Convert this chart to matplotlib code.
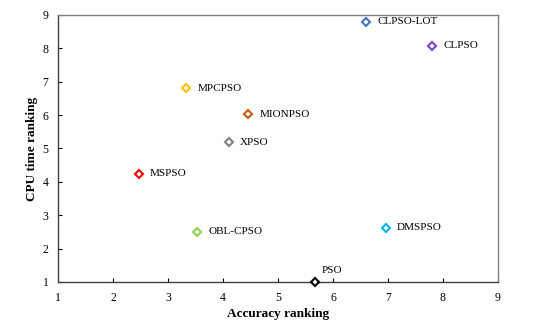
import matplotlib
matplotlib.use('Agg')
import matplotlib.pyplot as plt

# algorithm positions: (accuracy ranking, CPU time ranking)
names = ['CLPSO-LOT', 'CLPSO', 'MPCPSO', 'MIONPSO', 'XPSO',
         'MSPSO', 'OBL-CPSO', 'DMSPSO', 'PSO']
accuracy = [6.6, 7.8, 3.33, 4.46, 4.11, 2.47, 3.53, 6.96, 5.67]
cpu_time = [8.8, 8.08, 6.81, 6.03, 5.18, 4.24, 2.51, 2.62, 1.0]
colors = ['#4472C4', '#7F3FBF', '#FFC000', '#C55A11', '#808080',
          '#FF0000', '#92D050', '#00B0F0', '#000000']

plt.rcParams['font.family'] = ['Liberation Serif', 'DejaVu Serif']

fig = plt.figure(figsize=(5.43, 3.26), dpi=100)
ax = fig.add_axes([0.107, 0.135, 0.81, 0.819])

for name, x, y, c in zip(names, accuracy, cpu_time, colors):
    ax.plot(x, y, marker='D', markersize=4.5, markerfacecolor='white',
            markeredgecolor=c, markeredgewidth=1.5, linestyle='none',
            clip_on=False, zorder=3)
    if name == 'PSO':
        ax.annotate(name, (x, y), xytext=(5, 5), textcoords='offset points',
                    fontsize=8, va='bottom', ha='left')
    else:
        ax.annotate(name, (x, y), xytext=(8, 0), textcoords='offset points',
                    fontsize=8, va='center', ha='left')

ax.set_xlim(1, 9)
ax.set_ylim(1, 9)
ax.set_xticks(range(1, 10))
ax.set_yticks(range(1, 10))
ax.tick_params(direction='in', length=3, width=0.8, labelsize=8.5)
ax.tick_params(axis='x', pad=7)
ax.tick_params(axis='y', pad=7)
ax.set_xlabel('Accuracy ranking', fontsize=9.5, fontweight='bold', labelpad=3)
ax.set_ylabel('CPU time ranking', fontsize=9.5, fontweight='bold', labelpad=3)

for side in ['top', 'right']:
    ax.spines[side].set_color('#808080')
    ax.spines[side].set_linewidth(1.0)
for side in ['left', 'bottom']:
    ax.spines[side].set_color('#404040')
    ax.spines[side].set_linewidth(1.0)

fig.savefig('out.png', dpi=100, facecolor='white')
